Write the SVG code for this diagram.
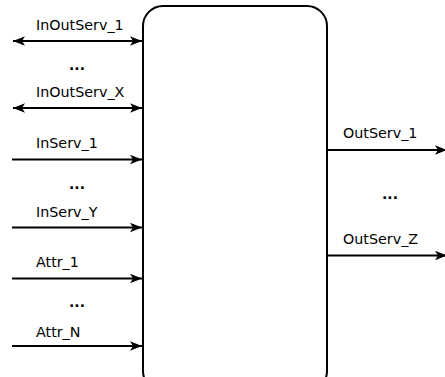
<svg xmlns="http://www.w3.org/2000/svg" width="445" height="377" viewBox="0 0 445 377">
<style>
.t{font-family:"DejaVu Sans",sans-serif;font-size:14.3px;fill:#000}
.d{font-family:"DejaVu Sans",sans-serif;font-size:14px;font-weight:bold;fill:#000}
.c{fill:none;stroke:#000;stroke-width:2}
.b{fill:#fff;stroke:#000;stroke-width:2}
</style>
<defs>
<marker id="ah" markerUnits="userSpaceOnUse" viewBox="-13 -6 14 12" refX="0" refY="0" markerWidth="14" markerHeight="12" orient="auto-start-reverse">
<path d="M0,0 L-12,-4.8 L-9,0 L-12,4.8 Z" fill="#000"/>
</marker>
</defs>
<g id="box">
<rect class="b" x="143" y="6" width="184" height="385" rx="20" ry="20"/>
</g>
<g id="connectors">
<line class="c" x1="13" y1="41" x2="142" y2="41" marker-start="url(#ah)" marker-end="url(#ah)"/>
<line class="c" x1="13" y1="108" x2="142" y2="108" marker-start="url(#ah)" marker-end="url(#ah)"/>
<line class="c" x1="12" y1="159.5" x2="142" y2="159.5" marker-end="url(#ah)"/>
<line class="c" x1="12" y1="227.5" x2="142" y2="227.5" marker-end="url(#ah)"/>
<line class="c" x1="12" y1="278.5" x2="142" y2="278.5" marker-end="url(#ah)"/>
<line class="c" x1="12" y1="346" x2="142" y2="346" marker-end="url(#ah)"/>
<line class="c" x1="327" y1="150" x2="447" y2="150" marker-end="url(#ah)"/>
<line class="c" x1="327" y1="255.5" x2="447" y2="255.5" marker-end="url(#ah)"/>
</g>
<g id="labels">
<text class="t" x="36" y="29.5">InOutServ_1</text>
<text class="d" x="77" y="70" text-anchor="middle">...</text>
<text class="t" x="36" y="96.5">InOutServ_X</text>
<text class="t" x="36" y="148">InServ_1</text>
<text class="d" x="77" y="188.5" text-anchor="middle">...</text>
<text class="t" x="36" y="216.5">InServ_Y</text>
<text class="t" x="36" y="267">Attr_1</text>
<text class="d" x="77" y="306.5" text-anchor="middle">...</text>
<text class="t" x="36" y="336.5">Attr_N</text>
<text class="t" x="343" y="138">OutServ_1</text>
<text class="d" x="390" y="198.5" text-anchor="middle">...</text>
<text class="t" x="343" y="244">OutServ_Z</text>
</g>
</svg>
